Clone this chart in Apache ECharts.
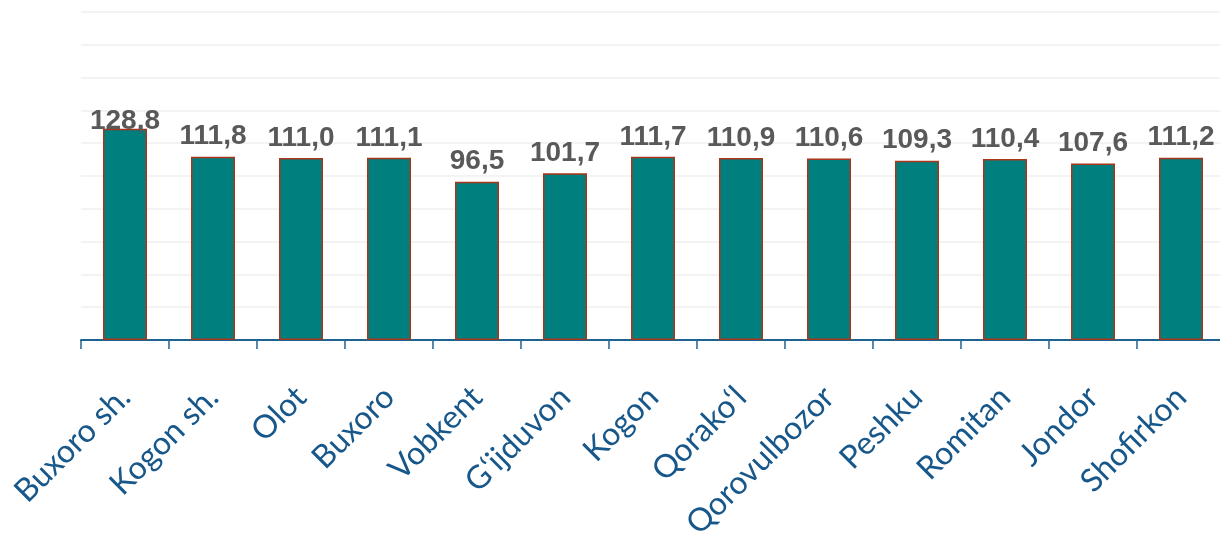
<!DOCTYPE html>
<html>
<head>
<meta charset="utf-8">
<script src="https://cdn.jsdelivr.net/npm/echarts@6/dist/echarts.min.js"></script>
<style>
  html, body { margin: 0; padding: 0; background: #ffffff; }
  #chart { width: 1220px; height: 533px; }
</style>
</head>
<body>
<div id="chart"></div>
<script>
// District names along the horizontal axis
const districts = [
  'Buxoro sh.', 'Kogon sh.', 'Olot', 'Buxoro', 'Vobkent', 'G\u2018ijduvon',
  'Kogon', 'Qorako\u2018l', 'Qorovulbozor', 'Peshku', 'Romitan', 'Jondor', 'Shofirkon'
];

// Index value per district
const indexValues = [128.8, 111.8, 111.0, 111.1, 96.5, 101.7, 111.7, 110.9, 110.6, 109.3, 110.4, 107.6, 111.2];

// Value axis range (hidden, only gridlines drawn)
const valueAxisMin = 0;
const valueAxisMax = 200;
const valueAxisStep = 20;

const chart = echarts.init(document.getElementById('chart'), null, { renderer: 'canvas' });

const maxVal = Math.max(...indexValues);
const seriesData = indexValues.map(v => {
  const item = { value: v };
  // the tallest label sits against the top of the plot and overlaps its bar slightly
  if (v === maxVal) item.label = { offset: [0, 13] };
  return item;
});

chart.setOption({
  animation: false,
  grid: { left: 81, right: -5, top: 12, bottom: 193, containLabel: false, outerBoundsMode: 'none' },
  xAxis: {
    type: 'category',
    data: districts,
    axisLine: { show: true, lineStyle: { color: '#1f6391', width: 2 } },
    axisTick: { show: true, alignWithLabel: false, length: 9, lineStyle: { color: '#1f6391', width: 1.5 } },
    axisLabel: {
      rotate: 45,
      interval: 0,
      margin: 52,
      color: '#17578a',
      fontFamily: 'Lato, "Open Sans", sans-serif',
      fontSize: 32
    }
  },
  yAxis: {
    type: 'value',
    min: valueAxisMin,
    max: valueAxisMax,
    interval: valueAxisStep,
    axisLine: { show: false },
    axisTick: { show: false },
    axisLabel: { show: false },
    splitLine: { show: true, lineStyle: { color: '#efefef', width: 1.5 } }
  },
  series: [{
    type: 'bar',
    data: seriesData,
    barWidth: '50%',
    itemStyle: { color: '#007f7f', borderColor: '#a8361a', borderWidth: 1.5 },
    label: {
      show: true,
      position: 'top',
      distance: 6,
      color: '#595959',
      fontFamily: 'Arial, "Liberation Sans", sans-serif',
      fontWeight: 'bold',
      fontSize: 28,
      formatter: p => p.value.toFixed(1).replace('.', ',')
    }
  }]
});
</script>
</body>
</html>
